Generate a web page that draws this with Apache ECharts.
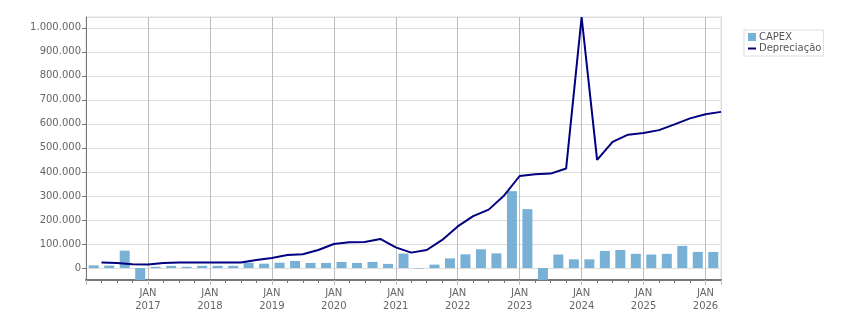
<!DOCTYPE html>
<html>
<head>
<meta charset="utf-8">
<script src="https://cdn.jsdelivr.net/npm/echarts@6/dist/echarts.min.js"></script>
<style>
    html, body { margin: 0; padding: 0; background: #fff; }
    #capexChart { width: 851px; height: 313px; }
</style>
</head>
<body>
<div id="capexChart"></div>
<script>
// trimestres 2016 T1 .. 2026 T1
var quarters = [
    '2016T1','2016T2','2016T3','2016T4','2017T1','2017T2','2017T3','2017T4',
    '2018T1','2018T2','2018T3','2018T4','2019T1','2019T2','2019T3','2019T4',
    '2020T1','2020T2','2020T3','2020T4','2021T1','2021T2','2021T3','2021T4',
    '2022T1','2022T2','2022T3','2022T4','2023T1','2023T2','2023T3','2023T4',
    '2024T1','2024T2','2024T3','2024T4','2025T1','2025T2','2025T3','2025T4',
    '2026T1'
];

var capex = [
    11000, 10000, 72000, -50000, 5000, 9000, 5000, 9000,
    9000, 9000, 22000, 18000, 22000, 29000, 21000, 21000,
    25000, 21000, 25000, 17000, 60000, -2000, 14000, 40000,
    57000, 78000, 61000, 320000, 245000, -50000, 56000, 36000,
    36000, 71000, 75000, 59000, 56000, 59000, 92000, 67000,
    67000
];

// depreciação, valor no fim de cada trimestre
var depreciacao = [
    23000, 21000, 16000, 15000, 21000, 23000, 23000, 23000,
    23000, 23000, 33000, 42000, 54000, 57000, 75000, 100000,
    107000, 108000, 121000, 86000, 64000, 75000, 117000, 173000,
    216000, 243000, 302000, 383000, 390000, 393000, 414000, 1045000,
    450000, 525000, 555000, 562000, 574000, 598000, 623000, 640000,
    650000
];

var yearLabels = ['2017','2018','2019','2020','2021','2022','2023','2024','2025','2026'];

var capexData = capex.map(function (v, i) { return [i + 0.5, v]; });
var deprecData = depreciacao.map(function (v, i) { return [i + 1, v]; });

function fmtMil(v) {
    return String(Math.round(v)).replace(/\B(?=(\d{3})+(?!\d))/g, '.');
}

var chart = echarts.init(document.getElementById('capexChart'));

var gridCol = [];
for (var g = 0; g <= yearLabels.length; g++) gridCol.push('#bdbdbd');
gridCol.push('#dddddd');

var option = {
    animation: false,
    textStyle: { fontFamily: 'DejaVu Sans' },
    grid: {
        left: 86,
        right: 130,
        top: 17,
        bottom: 33,
        show: true,
        borderColor: '#dddddd',
        borderWidth: 1
    },
    legend: {
        orient: 'vertical',
        left: 744,
        top: 30,
        padding: [2, 2, 3, 4],
        itemGap: 1,
        itemWidth: 8,
        itemHeight: 8,
        borderColor: '#dddddd',
        borderWidth: 1,
        textStyle: { fontSize: 10, color: '#555', fontFamily: 'DejaVu Sans', padding: [0, 0, 0, -2] },
        data: [
            { name: 'CAPEX', icon: 'rect' },
            { name: 'Depreciação', icon: 'path://M0,0 M0,3.5 L8,3.5 L8,5.5 L0,5.5 Z M8,8' }
        ]
    },
    xAxis: {
        type: 'value',
        min: 0,
        max: quarters.length,
        interval: 4,
        axisLine: { onZero: false, lineStyle: { color: '#777', width: 2 } },
        axisTick: { show: true, length: 5, lineStyle: { color: '#bdbdbd' } },
        minorTick: { show: true, splitNumber: 4, length: 3, lineStyle: { color: '#777' } },
        splitLine: { show: true, lineStyle: { color: gridCol, width: 1 } },
        axisLabel: {
            showMaxLabel: false,
            margin: 7,
            fontSize: 10,
            lineHeight: 13,
            color: '#666',
            formatter: function (v) {
                var k = v / 4 - 1;
                if (k < 0 || k >= yearLabels.length || v % 4 !== 0) return '';
                return 'JAN\n' + yearLabels[k];
            }
        }
    },
    yAxis: {
        type: 'value',
        min: -50000,
        max: 1045000,
        splitNumber: 10,
        axisLine: { show: true, onZero: false, lineStyle: { color: '#777', width: 1 } },
        axisTick: { show: true, length: 4, lineStyle: { color: '#777' } },
        splitLine: { lineStyle: { color: '#dddddd' } },
        axisLabel: {
            showMinLabel: false,
            showMaxLabel: false,
            margin: 5,
            fontSize: 10,
            color: '#666',
            formatter: fmtMil
        }
    },
    series: [
        {
            name: 'CAPEX',
            type: 'bar',
            barWidth: 10,
            itemStyle: { color: '#78b1d5' },
            data: capexData
        },
        {
            name: 'Depreciação',
            type: 'line',
            symbol: 'none',
            z: 3,
            lineStyle: { color: '#000080', width: 2 },
            itemStyle: { color: '#000080' },
            data: deprecData
        }
    ]
};

chart.setOption(option);
</script>
</body>
</html>
